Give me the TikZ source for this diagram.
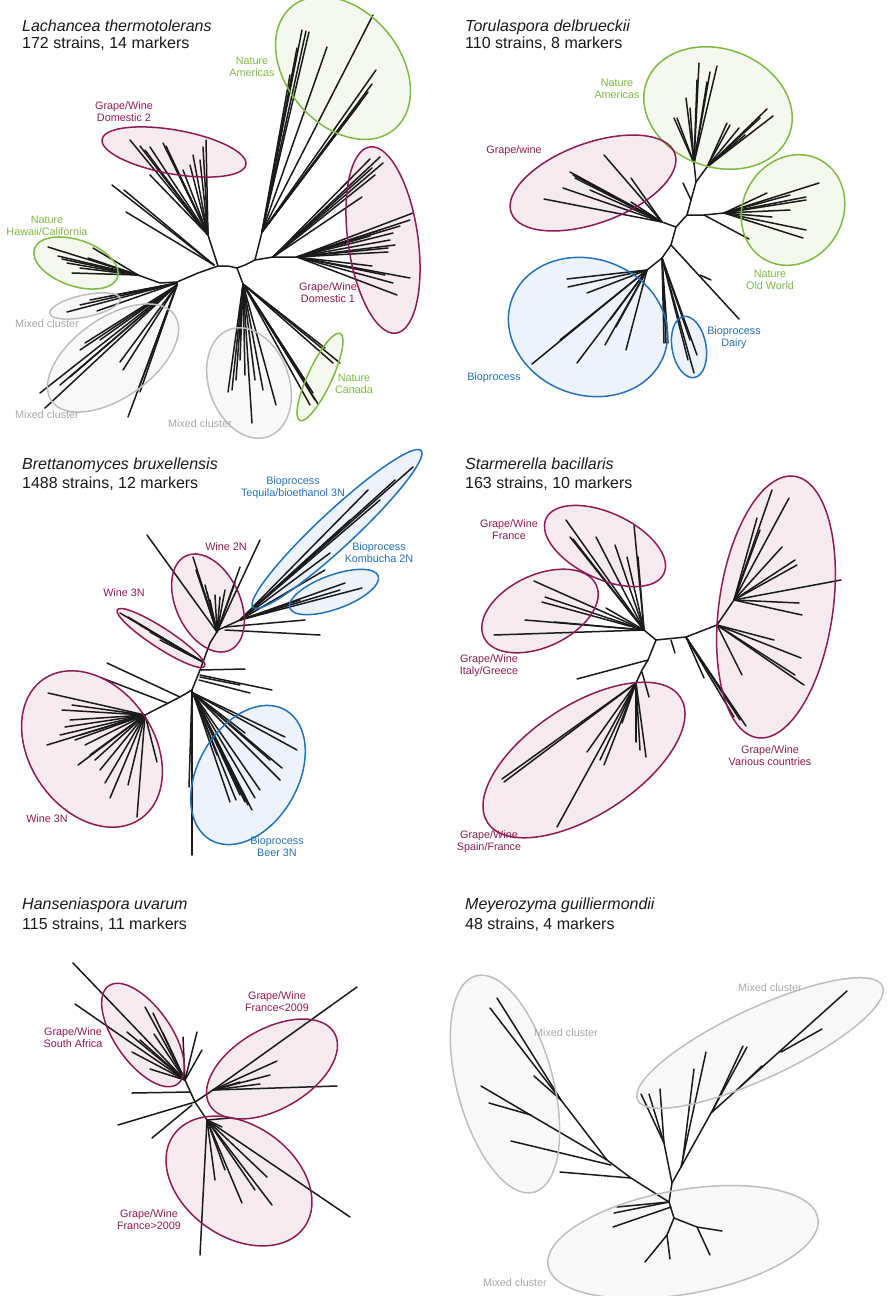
\documentclass[tikz,border=0pt]{standalone}
\usepackage{fontspec}
\newfontfamily\arial{Liberation Sans}
\definecolor{grD}{HTML}{7DBB42}\definecolor{grF}{HTML}{F4F8EE}
\definecolor{mrD}{HTML}{8E1C52}\definecolor{mrF}{HTML}{F5EBEF}
\definecolor{blD}{HTML}{2272BA}\definecolor{blF}{HTML}{EEF2FA}
\definecolor{gyD}{HTML}{BEBEBE}\definecolor{gyF}{HTML}{F8F8F8}
\definecolor{gyT}{HTML}{A8A8A8}\definecolor{ink}{HTML}{1A1A1A}
\newcommand\fan[2]{\foreach \p in {#2}{\draw[br] #1 -- \p;}}
\tikzset{
 br/.style={draw=ink,line width=1.5pt,line cap=round,line join=round},
 lab/.style={align=center,inner sep=0pt,font=\arial\fontsize{10.8}{11.8}\selectfont},
 ttl/.style={anchor=base west,inner sep=0pt,text=ink,font=\arial\fontsize{16}{18}\selectfont\itshape},
 sub/.style={anchor=base west,inner sep=0pt,text=ink,font=\arial\fontsize{16}{18}\selectfont},
}
\def\ellist{grD/343/68/-50/80/57, mrD/174/152/-10/73/22, mrD/383/240/-82/94/35, grD/76/263/-19/44/23,
 gyD/85/306/12/36/11, gyD/113/358/35/75/40, gyD/249/383/-70/57/40, grD/320/377/65/48/12,
 grD/718/108/-20/76/59, mrD/593/183/20/87/40, grD/793/210/60/57/50, blD/588/327/-20/81/68, blD/689/347/-80/31/17,
 blD/337/529/43/115/18, blD/334/592/20/47/17, mrD/208/603/-65/52/32, mrD/161/638/-33/52/10, mrD/92/749/-55/85/62, blD/248/775/60/75/50,
 mrD/605/546/-25/65/33, mrD/540/611/25/62/36, mrD/584/760/33/115/55, mrD/776/607/82/132/57,
 mrD/143/1035/-55/60/28, mrD/272/1069/30/72/40, mrD/239/1181/-35/80/56,
 gyD/505/1084/-75/112/48, gyD/760/1043/25/135/35, gyD/683/1242/10/137/52}
\begin{document}
\begin{tikzpicture}[x=1pt,y=-1pt]
\useasboundingbox (0,0) rectangle (888,1296);
\fill[white] (0,0) rectangle (888,1296);
% ellipse fills
\foreach \c/\x/\y/\a/\r/\s in \ellist {
  \def\q{grD}\ifx\c\q\def\ff{grF}\fi
  \def\q{mrD}\ifx\c\q\def\ff{mrF}\fi
  \def\q{blD}\ifx\c\q\def\ff{blF}\fi
  \def\q{gyD}\ifx\c\q\def\ff{gyF}\fi
  \fill[\ff,rotate around={\a:(\x,\y)}] (\x,\y) ellipse [x radius=\r pt, y radius=\s pt];
}
% ===== Panel 1 : Lachancea =====
\draw[br] (177,282) -- (198,273) -- (218,266) -- (228,266) -- (237,268) -- (245,265) -- (255,260) -- (273,257) -- (297,257);
\draw[br] (218,266) -- (208,235);
\fan{(208,235)}{(130,140),(140,146),(150,147),(163,143),(166,146),(183,170),(193,155),(200,160),(203,147),(206,140),(150,175),(172,160),(145,150),(190,165)}
\fan{(214,265)}{(112,185),(124,190),(126,212)}
\draw[br] (255,260) -- (262,232);
\fan{(262,232)}{(297,48),(302,30),(306,31),(309,32),(327,47),(373,15),(376,70),(372,84),(368,92),(360,103),(290,75),(350,115)}
\fan{(273,257)}{(380,157),(370,159),(383,163),(362,197),(375,175),(372,168)}
\fan{(297,257)}{(413,213),(410,220),(393,233),(388,248),(388,252),(372,266),(410,278),(393,283),(397,295),(380,230),(390,240),(400,226),(395,245),(385,275),(370,236)}
\draw[br] (237,268) -- (243,284);
\fan{(243,284)}{(228,392),(232,390),(240,337),(252,423),(263,390),(276,405),(236,380),(245,375),(310,405),(315,400),(313,393),(340,363),(325,348),(333,363),(305,380),(318,404),(240,360),(255,380)}
\draw[br] (177,282) -- (160,283) -- (138,275);
\fan{(138,275)}{(48,247),(62,259),(72,273),(88,258),(93,248),(67,263),(80,268),(58,256)}
\fan{(177,283)}{(67,312),(90,300),(97,311),(110,296),(80,305)}
\fan{(177,285)}{(40,393),(45,408),(70,377),(80,350),(85,343),(123,370),(128,417),(138,390),(120,362),(100,340),(140,392),(60,385)}
% ===== Panel 2 : Torulaspora =====
\draw[br] (662,258) -- (671,245) -- (676,227) -- (687,215) -- (691,200) -- (696,182) -- (694,163) -- (699,63);
\fan{(694,163)}{(717,66),(707,82),(697,80),(686,98),(674,118),(677,118),(690,108),(710,72)}
\draw[br] (696,182) -- (707,167);
\fan{(707,167)}{(727,123),(739,128),(767,109),(773,116),(730,125),(745,135),(760,118)}
\draw[br] (691,200) -- (683,183);
\draw[br] (687,215) -- (704,215) -- (724,213);
\fan{(724,213)}{(767,193),(819,183),(806,197),(806,200),(772,217),(806,230),(803,238),(790,210),(790,195)}
\draw[br] (704,215) -- (749,239);
\draw[br] (676,227) -- (662,222);
\fan{(662,222)}{(604,155),(570,172),(573,175),(563,188),(544,199),(631,202),(631,178),(590,190),(575,178)}
\draw[br] (662,258) -- (647,270);
\fan{(647,270)}{(567,279),(568,287),(587,293),(532,364),(577,363),(626,350),(616,327),(605,345),(560,340),(610,320)}
\fan{(662,258)}{(666,343),(668,343),(664,343),(694,373),(697,355),(690,340),(688,360)}
\draw[br] (671,245) -- (739,319);
\draw[br] (700,275) -- (711,280);
% ===== Panel 3 : Brettanomyces =====
\draw[br] (192,690) -- (200,670) -- (203,662) -- (210,643) -- (218,630) -- (240,620);
\draw[br] (192,690) -- (180,697) -- (145,715);
\fan{(145,715)}{(48,693),(60,735),(47,745),(78,765),(110,798),(105,783),(128,785),(137,817),(157,762),(80,735),(70,720),(100,770),(90,755),(62,710),(65,727),(75,740),(85,745),(95,760),(72,705)}
\draw[br] (180,697) -- (107,663);
\draw[br] (167,703) -- (102,678);
\draw[br] (192,690) -- (192,855);
\draw[br] (192,690) -- (189,787);
\fan{(193,693)}{(285,737),(297,750),(282,768),(280,780),(252,810),(245,802),(230,802),(217,755),(245,733),(260,790),(240,795),(248,805),(236,800),(255,798),(270,760)}
\draw[br] (200,675) -- (272,690);
\draw[br] (201,670) -- (245,669);
\draw[br] (199,680) -- (250,693);
\draw[br] (200,677) -- (240,685);
\fan{(203,662)}{(128,617),(120,613),(140,625),(160,640),(150,632)}
\fan{(217,632)}{(193,557),(207,592),(220,597),(240,567),(235,583),(260,540),(147,535),(200,580),(210,600),(225,590),(205,585),(215,595),(196,570)}
\fan{(240,620)}{(413,467),(368,490),(330,553),(380,500),(350,520),(362,588),(345,583),(325,570),(340,590),(300,600),(395,480)}
\draw[br] (225,627) -- (305,620);
\draw[br] (225,630) -- (320,635);
% ===== Panel 4 : Starmerella =====
\draw[br] (644,630) -- (656,640) -- (686,637) -- (717,625) -- (734,600);
\fan{(644,630)}{(566,520),(570,537),(573,539),(596,537),(634,525),(638,557),(627,557),(615,545),(494,635),(534,581),(542,602),(545,597),(606,608),(554,622),(525,620)}
\draw[br] (656,640) -- (648,660) -- (642,670) -- (636,683);
\draw[br] (648,660) -- (577,679);
\draw[br] (642,672) -- (649,697);
\fan{(636,683)}{(504,782),(502,779),(557,827),(604,765),(646,757),(636,742),(622,723),(587,752),(600,760),(640,750)}
\draw[br] (671,640) -- (675,653);
\fan{(734,600)}{(772,490),(789,498),(757,518),(782,547),(797,565),(795,560),(841,580),(802,615),(799,603),(760,530)}
\fan{(717,625)}{(774,640),(801,658),(804,685),(795,675),(742,675)}
\fan{(686,637)}{(746,726),(734,717),(740,720),(704,678)}
% ===== Panel 5 : Hanseniaspora =====
\draw[br] (185,1080) -- (195,1102) -- (207,1120);
\fan{(185,1080)}{(73,963),(75,1004),(145,1007),(153,1013),(163,1033),(154,1034),(132,1052),(150,1069),(183,1037),(197,1032),(202,1050),(127,1032),(140,1040)}
\draw[br] (190,1092) -- (132,1093);
\draw[br] (195,1102) -- (118,1125);
\draw[br] (192,1105) -- (152,1138);
\draw[br] (195,1102) -- (213,1090);
\fan{(213,1090)}{(357,987),(277,1061),(337,1086),(260,1084),(240,1082),(270,1075)}
\fan{(207,1120)}{(200,1255),(242,1203),(272,1205),(350,1217),(267,1177),(230,1118),(222,1127),(225,1170),(255,1190),(215,1180)}
% ===== Panel 6 : Meyerozyma =====
\draw[br] (672,1183) -- (669,1202) -- (674,1218);
\draw[br] (669,1202) -- (631,1178) -- (607,1160) -- (561,1100) -- (497,998);
\draw[br] (561,1100) -- (490,1008);
\draw[br] (561,1100) -- (534,1076);
\draw[br] (607,1160) -- (481,1086);
\draw[br] (531,1115) -- (489,1103);
\draw[br] (611,1165) -- (511,1141);
\draw[br] (631,1178) -- (560,1172);
\draw[br] (672,1183) -- (681,1167) -- (711,1113) -- (847,991);
\draw[br] (781,1052) -- (822,1029);
\draw[br] (741,1086) -- (762,1066);
\draw[br] (711,1113) -- (747,1047);
\draw[br] (713,1110) -- (743,1046);
\draw[br] (681,1167) -- (706,1052);
\draw[br] (683,1158) -- (694,1069);
\draw[br] (672,1183) -- (664,1143) -- (641,1094);
\draw[br] (664,1143) -- (649,1094);
\draw[br] (664,1143) -- (660,1089);
\draw[br] (669,1202) -- (617,1207);
\draw[br] (669,1202) -- (614,1213);
\draw[br] (671,1207) -- (613,1227);
\draw[br] (674,1218) -- (697,1227) -- (722,1231);
\draw[br] (697,1227) -- (710,1255);
\draw[br] (674,1218) -- (667,1235) -- (645,1262);
\draw[br] (667,1235) -- (670,1259);
% ellipse outlines
\foreach \c/\x/\y/\a/\r/\s in \ellist {
  \draw[\c,line width=1.5pt,rotate around={\a:(\x,\y)}] (\x,\y) ellipse [x radius=\r pt, y radius=\s pt];
}
% titles
\node[ttl] (t1) at (22,31) {Lachancea thermotolerans};
\node[sub] (s1) at (22,48) {172 strains, 14 markers};
\node[ttl] (t2) at (465,31) {Torulaspora delbrueckii};
\node[sub] (s2) at (465,48) {110 strains, 8 markers};
\node[ttl] (t3) at (22,469) {Brettanomyces bruxellensis};
\node[sub] (s3) at (22,488) {1488 strains, 12 markers};
\node[ttl] (t4) at (465,469) {Starmerella bacillaris};
\node[sub] (s4) at (465,488) {163 strains, 10 markers};
\node[ttl] (t5) at (22,909) {Hanseniaspora uvarum};
\node[sub] (s5) at (22,929) {115 strains, 11 markers};
\node[ttl] (t6) at (465,909) {Meyerozyma guilliermondii};
\node[sub] (s6) at (465,929) {48 strains, 4 markers};
% labels panel 1
\node[lab,text=grD] (l1) at (252,67) {Nature\\Americas};
\node[lab,text=mrD] (l2) at (124,112) {Grape/Wine\\Domestic 2};
\node[lab,text=grD] (l3) at (47,226) {Nature\\Hawaii/California};
\node[lab,text=gyT] (l4) at (47,324) {Mixed cluster};
\node[lab,text=gyT] (l5) at (47,415) {Mixed cluster};
\node[lab,text=gyT] (l6) at (200,424) {Mixed cluster};
\node[lab,text=mrD] (l7) at (328,293) {Grape/Wine\\Domestic 1};
\node[lab,text=grD] (l8) at (354,384) {Nature\\Canada};
% labels panel 2
\node[lab,text=grD] (m1) at (617,89) {Nature\\Americas};
\node[lab,text=mrD] (m2) at (514,151) {Grape/wine};
\node[lab,text=grD] (m3) at (770,280) {Nature\\Old World};
\node[lab,text=blD] (m4) at (734,338) {Bioprocess\\Dairy};
\node[lab,text=blD] (m5) at (494,378) {Bioprocess};
% labels panel 3
\node[lab,text=blD] (n1) at (293,488) {Bioprocess\\Tequila/bioethanol 3N};
\node[lab,text=blD] (n2) at (379,553) {Bioprocess\\Kombucha 2N};
\node[lab,text=mrD] (n3) at (226,547) {Wine 2N};
\node[lab,text=mrD] (n4) at (124,593) {Wine 3N};
\node[lab,text=mrD] (n5) at (47,819) {Wine 3N};
\node[lab,text=blD] (n6) at (277,847) {Bioprocess\\Beer 3N};
% labels panel 4
\node[lab,text=mrD] (o1) at (509,530) {Grape/Wine\\France};
\node[lab,text=mrD] (o2) at (489,666) {Grape/Wine\\Italy/Greece};
\node[lab,text=mrD] (o3) at (489,842) {Grape/Wine\\Spain/France};
\node[lab,text=mrD] (o4) at (770,756) {Grape/Wine\\Various countries};
% labels panel 5
\node[lab,text=mrD] (p1) at (73,1038) {Grape/Wine\\South Africa};
\node[lab,text=mrD] (p2) at (277,1002) {Grape/Wine\\France<2009};
\node[lab,text=mrD] (p3) at (149,1220) {Grape/Wine\\France>2009};
% labels panel 6
\node[lab,text=gyT] (q1) at (770,988) {Mixed cluster};
\node[lab,text=gyT] (q2) at (566,1033) {Mixed cluster};
\node[lab,text=gyT] (q3) at (515,1283) {Mixed cluster};
\end{tikzpicture}
\end{document}
